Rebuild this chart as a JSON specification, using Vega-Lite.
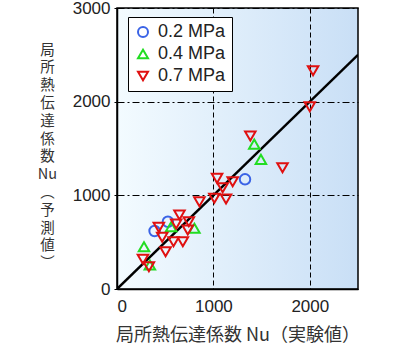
{
  "$schema": "https://vega.github.io/schema/vega-lite/v6.json",
  "autosize": {"type": "none"},
  "padding": {"left": 117, "top": 8, "right": 42, "bottom": 61},
  "width": 241,
  "height": 281,
  "background": "white",
  "view": {
    "fill": {"gradient": "linear", "x1": 0, "y1": 0, "x2": 1, "y2": 0,
      "stops": [{"offset": 0, "color": "#f3fbff"}, {"offset": 1, "color": "#c9dff6"}]},
    "stroke": "black", "strokeWidth": 1.5
  },
  "datasets": {
    "points": [
      {"series": "0.2 MPa", "exp": 1328, "pred": 1171},
      {"series": "0.2 MPa", "exp": 528, "pred": 718},
      {"series": "0.2 MPa", "exp": 390, "pred": 619},
      {"series": "0.4 MPa", "exp": 1424, "pred": 1547},
      {"series": "0.4 MPa", "exp": 1493, "pred": 1384},
      {"series": "0.4 MPa", "exp": 803, "pred": 648},
      {"series": "0.4 MPa", "exp": 562, "pred": 665},
      {"series": "0.4 MPa", "exp": 280, "pred": 451},
      {"series": "0.4 MPa", "exp": 341, "pred": 256},
      {"series": "0.7 MPa", "exp": 2034, "pred": 2330},
      {"series": "0.7 MPa", "exp": 2000, "pred": 1946},
      {"series": "0.7 MPa", "exp": 1383, "pred": 1633},
      {"series": "0.7 MPa", "exp": 1717, "pred": 1295},
      {"series": "0.7 MPa", "exp": 1038, "pred": 1181},
      {"series": "0.7 MPa", "exp": 1200, "pred": 1145},
      {"series": "0.7 MPa", "exp": 1096, "pred": 1081},
      {"series": "0.7 MPa", "exp": 1010, "pred": 968},
      {"series": "0.7 MPa", "exp": 1131, "pred": 961},
      {"series": "0.7 MPa", "exp": 855, "pred": 932},
      {"series": "0.7 MPa", "exp": 648, "pred": 790},
      {"series": "0.7 MPa", "exp": 434, "pred": 658},
      {"series": "0.7 MPa", "exp": 614, "pred": 694},
      {"series": "0.7 MPa", "exp": 745, "pred": 718},
      {"series": "0.7 MPa", "exp": 734, "pred": 630},
      {"series": "0.7 MPa", "exp": 469, "pred": 552},
      {"series": "0.7 MPa", "exp": 586, "pred": 505},
      {"series": "0.7 MPa", "exp": 683, "pred": 505},
      {"series": "0.7 MPa", "exp": 504, "pred": 398},
      {"series": "0.7 MPa", "exp": 269, "pred": 317},
      {"series": "0.7 MPa", "exp": 331, "pred": 238}
    ],
    "diag": [
      {"exp": 0, "pred": 0},
      {"exp": 2500, "pred": 2500}
    ]
  },
  "encoding": {
    "x": {
      "field": "exp", "type": "quantitative",
      "scale": {"domain": [0, 2500], "nice": false, "zero": true},
      "axis": {
        "values": [0, 1000, 2000], "format": "d",
        "grid": true, "gridColor": "black", "gridDash": [5, 3], "gridWidth": 1, "gridOpacity": 1,
        "ticks": false, "labelPadding": 9,
        "title": "局所熱伝達係数 Nu（実験値）", "titleFontSize": 18,
        "titleY": 46, "titleBaseline": "middle", "titleAnchor": "middle"
      }
    },
    "y": {
      "field": "pred", "type": "quantitative",
      "scale": {"domain": [0, 3000], "nice": false, "zero": true},
      "axis": {
        "values": [0, 1000, 2000, 3000], "format": "d",
        "grid": true, "gridColor": "black", "gridDash": [7, 3, 2, 3], "gridWidth": 1, "gridOpacity": 1,
        "tickSize": 3, "labelPadding": 4,
        "title": ["局", "所", "熱", "伝", "達", "係", "数", "Nu", "︵", "予", "測", "値", "︶"],
        "titleAngle": 0, "titleAlign": "center", "titleBaseline": "top",
        "titleX": -70, "titleY": 35, "titleFontSize": 14.5, "titleLineHeight": 17.8
      }
    }
  },
  "layer": [
    {
      "data": {"name": "diag"},
      "mark": {"type": "line", "color": "black", "strokeWidth": 2.5, "clip": true}
    },
    {
      "data": {"name": "points"},
      "mark": {"type": "point", "filled": false, "strokeWidth": 2, "size": 110, "opacity": 1},
      "encoding": {
        "color": {
          "field": "series", "type": "nominal",
          "scale": {"domain": ["0.2 MPa", "0.4 MPa", "0.7 MPa"], "range": ["#3a63e6", "#22dd22", "#e01010"]},
          "legend": {
            "title": null, "orient": "none", "legendX": 11, "legendY": 9,
            "strokeColor": "black", "fillColor": "white", "padding": 6,
            "labelFont": "Liberation Sans", "labelFontSize": 18, "labelColor": "#222",
            "symbolStrokeWidth": 2, "symbolSize": 100, "rowPadding": 4, "labelOffset": 6
          }
        },
        "shape": {
          "field": "series", "type": "nominal",
          "scale": {"domain": ["0.2 MPa", "0.4 MPa", "0.7 MPa"], "range": ["circle", "triangle-up", "triangle-down"]}
        }
      }
    }
  ],
  "config": {
    "axis": {
      "labelFont": "Liberation Sans", "labelFontSize": 17, "labelColor": "#222",
      "domainColor": "black", "domainWidth": 1.5, "tickColor": "black",
      "titleFont": "Noto Sans CJK JP", "titleFontWeight": "normal", "titleColor": "#333"
    }
  }
}
